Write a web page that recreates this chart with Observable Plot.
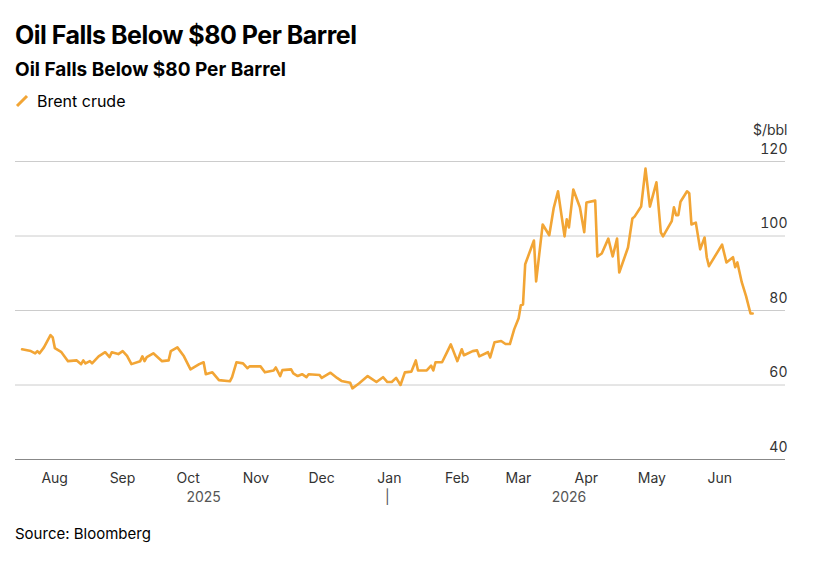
<!DOCTYPE html>
<html><head><meta charset="utf-8">
<script src="https://cdn.jsdelivr.net/npm/d3@7"></script>
<script src="https://cdn.jsdelivr.net/npm/@observablehq/plot@0.6"></script>
<style>
body{margin:0;background:#fff;font-family:Inter,"Noto Sans",sans-serif;color:#000}
#wrap{padding:14px 0 0 15px;width:808px}
h1{font-size:25px;font-weight:700;margin:6px 0 0 0;letter-spacing:-0.5px}
h2{font-size:19px;font-weight:700;margin:8px 0 0 0}
.leg{font-size:16px;margin-top:10px;display:flex;align-items:center;gap:8px}
.src{font-size:15px;margin-top:5px}
</style></head><body>
<div id="wrap">
<h1>Oil Falls Below $80 Per Barrel</h1>
<h2>Oil Falls Below $80 Per Barrel</h2>
<div class="leg"><svg width="14" height="14"><line x1="2" y1="12" x2="12" y2="2" stroke="#F2A535" stroke-width="3"/></svg>Brent crude</div>
<div id="chart" style="margin-left:-15px;margin-top:8px"></div>
<div class="src">Source: Bloomberg</div>
</div>
<script>
// days since 2026-01-01
const dayOffsets = [-167,-163,-161,-160,-159,-157,-154,-153,-152,-149,-146,-142,-140,-139,-138,-136,-135,-132,-129,-127,-126,-123,-121,-119,-117,-113,-112,-111,-110,-107,-103,-100,-99,-96,-93,-90,-86,-84,-83,-80,-77,-72,-71,-69,-66,-64,-63,-58,-56,-52,-51,-49,-48,-44,-43,-41,-39,-37,-36,-31,-30,-26,-23,-21,-17,-16,-13,-9,-5,-2,0,2,4,6,8,11,13,14,18,20,21,22,25,27,29,32,34,35,39,41,42,46,47,49,52,54,56,58,60,61,62,63,67,68,71,74,76,78,81,82,83,85,88,90,91,95,96,98,101,103,105,106,110,112,113,116,118,120,123,125,126,130,131,132,133,134,137,138,139,141,143,145,146,147,153,155,158,159,160,162,164,166,167];
const brent = [69.6,69.1,68.5,69.1,68.5,70.1,73.4,72.8,69.9,68.8,66.4,66.6,65.6,66.6,65.8,66.4,65.8,67.7,68.8,67.5,68.8,68.3,69.1,67.8,65.6,66.4,67.7,66.4,67.5,68.5,66.4,66.6,69.1,70.1,67.7,64.2,65.6,66.1,62.9,63.4,61.3,61.0,62.1,66.1,65.8,64.5,65.0,65.0,63.4,63.9,64.7,62.4,64.0,64.2,63.1,62.4,62.9,62.1,62.9,62.7,61.9,63.3,61.9,61.1,60.6,59.1,60.4,62.4,60.8,62.1,60.8,60.8,61.9,60.0,63.4,63.6,66.6,63.9,63.9,65.2,63.9,66.1,66.1,68.5,70.9,66.4,69.6,68.0,69.1,69.3,67.7,68.8,67.4,71.5,71.8,71.0,71.0,75.0,77.9,81.4,81.6,92.4,98.8,87.8,103.1,100.2,107.4,112.0,99.9,104.5,102.3,112.5,107.7,101.0,109.0,109.5,94.5,95.3,99.3,94.5,99.3,90.2,96.9,104.7,105.2,107.9,118.1,107.9,114.4,101.0,99.9,104.0,107.7,105.6,105.6,109.2,112.0,111.5,103.1,103.6,96.4,99.6,94.3,91.9,97.7,92.9,94.3,91.6,92.9,87.6,83.8,79.2,79.2];
const yTicks = [40,60,80,100,120];
const yearLabels = ["2025","2026"];
const yearDates = ["2025-10-09","2026-03-25"];

const base = Date.UTC(2026,0,1);
const data = dayOffsets.map((d,i)=>({date:new Date(base+d*864e5), value:brent[i]}));
const chart = Plot.plot({
  width:823, height:400,
  marginTop:42, marginBottom:60, marginLeft:15, marginRight:38,
  style:{fontFamily:"Inter, 'Noto Sans', sans-serif", fontSize:"14px", color:"#333"},
  x:{type:"utc", domain:[new Date(Date.UTC(2025,6,15)), new Date(Date.UTC(2026,6,2))]},
  y:{domain:[40,120]},
  marks:[
    Plot.gridY(yTicks,{stroke:"#ccc", strokeOpacity:1}),
    Plot.ruleY([40],{stroke:"#888"}),
    Plot.axisY(yTicks,{anchor:"right", tickSize:0, tickPadding:0, textAnchor:"end", dx:2, dy:-12, label:null, fill:"#333"}),
    Plot.text(["$/bbl"],{frameAnchor:"top-right", textAnchor:"end", dx:2, dy:-36, fontSize:14, fill:"#333"}),
    Plot.axisX({ticks:d3.utcMonth.every(1), tickFormat:d=>d3.utcFormat("%b")(d), tickSize:0, dx:2, tickPadding:14, label:null, fill:"#333",
      filter:d=>d>=new Date(Date.UTC(2025,7,1)) && d<=new Date(Date.UTC(2026,5,1))}),
    Plot.text(yearLabels,{x:(d,i)=>new Date(yearDates[i]), frameAnchor:"bottom", dy:42, fill:"#555", fontSize:14}),
    Plot.text(["|"],{x:[new Date(Date.UTC(2026,0,1))], frameAnchor:"bottom", dy:42, fill:"#555", fontSize:14}),
    Plot.line(data,{x:"date", y:"value", stroke:"#F2A535", strokeWidth:2.6, strokeLinejoin:"round"})
  ]
});
document.getElementById("chart").append(chart);
</script>
</body></html>
